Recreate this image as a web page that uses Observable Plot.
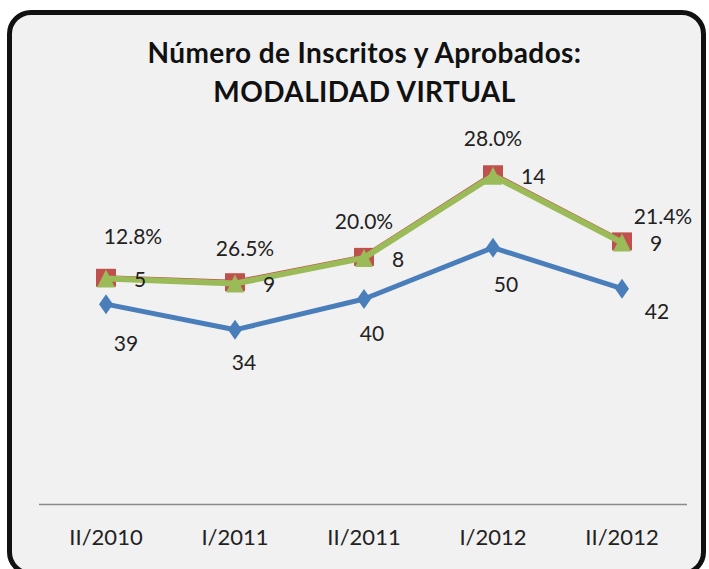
<!DOCTYPE html>
<html>
<head>
<meta charset="utf-8">
<script src="https://cdn.jsdelivr.net/npm/d3@7"></script>
<script src="https://cdn.jsdelivr.net/npm/@observablehq/plot@0.6"></script>
<style>
  html, body { margin: 0; padding: 0; background: #ffffff; width: 709px; height: 569px; overflow: hidden; }
  #frame { position: absolute; left: 7px; top: 10px; width: 699px; height: 566px; box-sizing: border-box;
           border: 5px solid #111; border-radius: 24px; background: #f1f1f1; }
  .title { position: absolute; left: 0; width: 729px; text-align: center; font-family: Lato, sans-serif;
           font-weight: bold; font-size: 28px; line-height: 28px; letter-spacing: 0.4px; color: #111; white-space: nowrap; }
  #chart { position: absolute; left: 0; top: 0; }
</style>
</head>
<body>
<div id="frame"></div>
<div class="title" style="top:38px">Número de Inscritos y Aprobados:</div>
<div class="title" style="top:77px">MODALIDAD VIRTUAL</div>
<div id="chart"></div>
<script>
// ---- data ----
const periods = ["II/2010", "I/2011", "II/2011", "I/2012", "II/2012"];
const inscritos = [39, 34, 40, 50, 42];
const aprobados = [5, 9, 8, 14, 9];
const pctAprobados = [12.8, 26.5, 20.0, 28.0, 21.4];

// ---- label nudges (layout only) ----
const pctNudge = [[27, -41], [10, -33], [0, -35], [0, -35], [41, -24]];
const inscNudge = [[20, 40], [9, 33], [8, 35], [13, 38], [35, 24]];

const blue = "#4a7ebb", red = "#c0504d", green = "#9bbb59";
const font = "Lato, sans-serif";

// stacked line chart (as in the original): each series sits on the previous one
const rows = periods.map((p, i) => ({
  p,
  insc: inscritos[i],
  aprob: aprobados[i],
  pct: pctAprobados[i],
  yBlue: inscritos[i],
  yGreen: inscritos[i] + aprobados[i],
  yRed: inscritos[i] + aprobados[i] + pctAprobados[i] / 100
}));

const diamond = { draw(ctx, size) { const w = 7, h = 10; ctx.moveTo(0, -h); ctx.lineTo(w, 0); ctx.lineTo(0, h); ctx.lineTo(-w, 0); ctx.closePath(); } };
const square = { draw(ctx, size) { const w = 10, h = 9; ctx.moveTo(-w, -h); ctx.lineTo(w, -h); ctx.lineTo(w, h); ctx.lineTo(-w, h); ctx.closePath(); } };
const triangle = { draw(ctx, size) { const w = 9, h = 9; ctx.moveTo(0, -h); ctx.lineTo(w, h); ctx.lineTo(-w, h); ctx.closePath(); } };

const labelMarks = [];
rows.forEach((d, i) => {
  labelMarks.push(Plot.text([d], { x: "p", y: "yRed", text: r => r.pct.toFixed(1) + "%", dx: pctNudge[i][0], dy: pctNudge[i][1],
    fontSize: 21, fontFamily: font, fill: "#222" }));
  labelMarks.push(Plot.text([d], { x: "p", y: "yBlue", text: r => String(r.insc), dx: inscNudge[i][0], dy: inscNudge[i][1],
    fontSize: 21, fontFamily: font, fill: "#222" }));
});

const chart = Plot.plot({
  width: 709,
  height: 569,
  marginLeft: 39,
  marginRight: 22,
  marginTop: 93,
  marginBottom: 65,
  style: { background: "transparent", overflow: "visible" },
  x: { type: "band", domain: periods, padding: 0, label: null },
  y: { domain: [0, 80], axis: null },
  marks: [
    Plot.ruleY([0], { stroke: "#8a8a8a", strokeWidth: 1.5 }),
    Plot.axisX({ tickSize: 0, tickPadding: 25, fontSize: 22, fontFamily: font, fill: "#222", label: null }),
    Plot.line(rows, { x: "p", y: "yBlue", stroke: blue, strokeWidth: 5 }),
    Plot.dot(rows, { x: "p", y: "yBlue", symbol: diamond, fill: blue, stroke: "none" }),
    Plot.line(rows, { x: "p", y: "yRed", stroke: red, strokeWidth: 5 }),
    Plot.dot(rows, { x: "p", y: "yRed", symbol: square, fill: red, stroke: "none" }),
    Plot.line(rows, { x: "p", y: "yGreen", stroke: green, strokeWidth: 6 }),
    Plot.dot(rows, { x: "p", y: "yGreen", symbol: triangle, fill: green, stroke: "none" }),
    Plot.text(rows, { x: "p", y: "yGreen", text: r => String(r.aprob), textAnchor: "start", dx: 28, dy: 2,
      fontSize: 21, fontFamily: font, fill: "#222" }),
    ...labelMarks
  ]
});
document.getElementById("chart").appendChild(chart);
</script>
</body>
</html>
